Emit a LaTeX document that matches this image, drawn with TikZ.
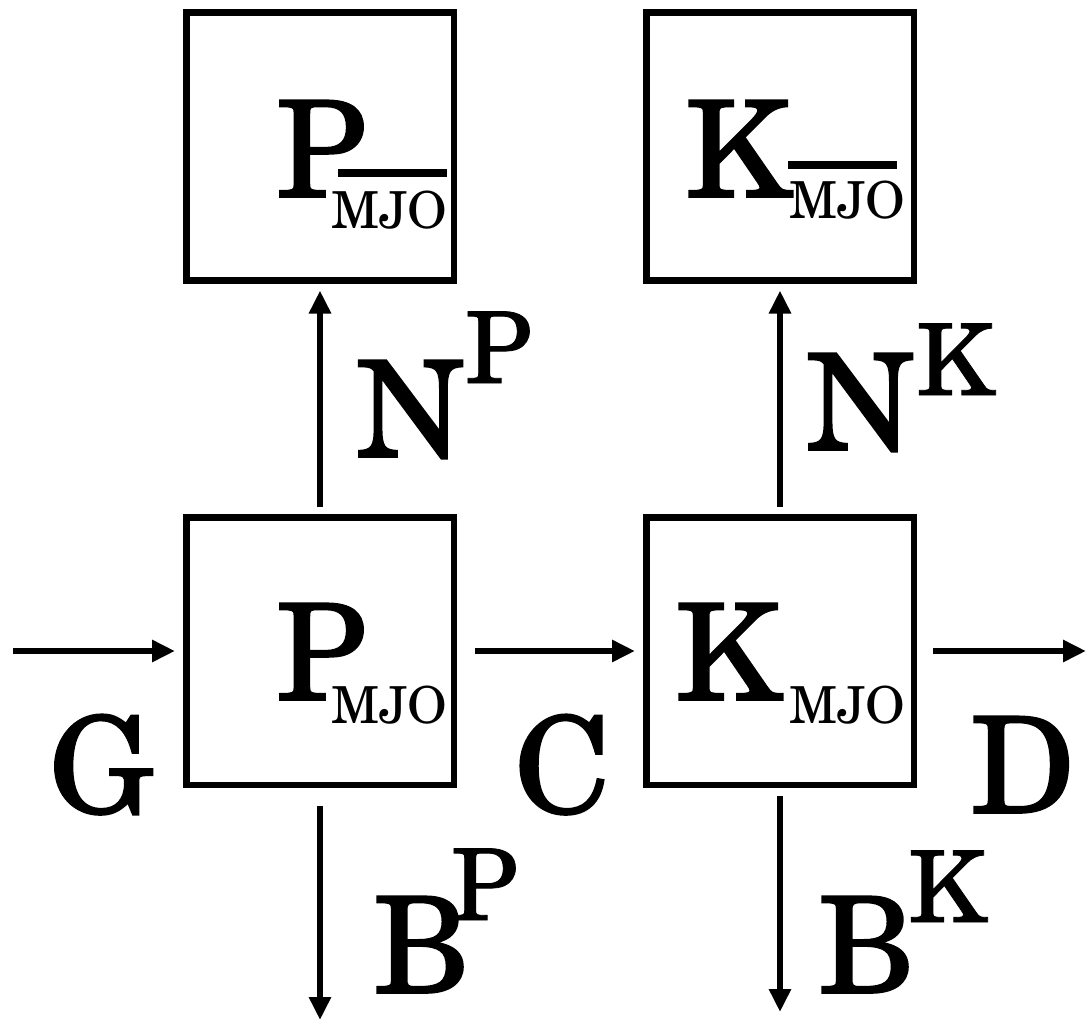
\documentclass[tikz,border=0pt]{standalone}
\usepackage{fontspec}
\setmainfont{TeX Gyre Schola}
\newfontfamily\heavyfont{TeX Gyre Schola}[FakeBold=1.2]
\newfontfamily\midfont{TeX Gyre Schola}[FakeBold=0.8]
\usetikzlibrary{arrows.meta}

\begin{document}
\begin{tikzpicture}[x=1pt, y=-1pt,
  box/.style={draw, line width=6.5pt, minimum size=267.5pt, inner sep=0pt},
  arr/.style={line width=6.5pt, -{Triangle[length=23pt, width=21pt]}},
  big/.style={font=\fontsize{134}{134}\selectfont\heavyfont, inner sep=0pt, anchor=base west},
  sup/.style={font=\fontsize{99}{99}\selectfont\midfont, inner sep=0pt, anchor=base west},
  sub/.style={font=\fontsize{51}{51}\selectfont, inner sep=0pt, anchor=base west}]
  \useasboundingbox (0,0) rectangle (1087,1025);
  % four blocks
  \node[box] (tp) at (320,146.5) {};
  \node[box] (tk) at (780,146.5) {};
  \node[box] (bp) at (320,651)   {};
  \node[box] (bk) at (780,651)   {};
  % block labels
  \node[big] (tpP)  at (276,197) {P};
  \node[sub] (tpS)  at (331,228) {\rlap{\kern7pt\raisebox{51pt}{\rule{109pt}{8pt}}}MJO};
  \node[big] (tkK)  at (685,197) {K};
  \node[sub] (tkS)  at (789,218) {\rlap{\kern-1pt\raisebox{49pt}{\rule{109pt}{8pt}}}MJO};
  \node[big] (bpP)  at (276,700) {P};
  \node[sub] (bpS)  at (331,723) {MJO};
  \node[big] (bkK)  at (675,700) {K};
  \node[sub] (bkS)  at (789,723) {MJO};
  % flow labels
  \node[big] (np)   at (356,457) {N};
  \node[sup] (npS)  at (465,383) {P};
  \node[big] (nk)   at (806,450) {N};
  \node[sup] (nkS)  at (916,395) {K};
  \node[big] (g)    at (49,813)  {G};
  \node[big] (c)    at (514,813) {C};
  \node[big] (d)    at (970,813) {D};
  \node[big] (bP)   at (373,993) {B};
  \node[sup] (bPS)  at (451,920) {P};
  \node[big] (bK)   at (818,993) {B};
  \node[sup] (bKS)  at (908,922) {K};
  % free ends
  \coordinate (gin)  at (13,651);
  \coordinate (dout) at (1086,651);
  \coordinate (bpo)  at (320,1020);
  \coordinate (bko)  at (780,1012);
  % connectors
  \draw[arr, shorten >=8pt] (gin) -- (bp);
  \draw[arr, shorten <=18pt, shorten >=8pt] (bp) -- (bk);
  \draw[arr, shorten <=16pt] (bk) -- (dout);
  \draw[arr, shorten <=7pt, shorten >=7pt] (bp) -- (tp);
  \draw[arr, shorten <=7pt, shorten >=7pt] (bk) -- (tk);
  \draw[arr, shorten <=18pt] (bp) -- (bpo);
  \draw[arr, shorten <=8pt] (bk) -- (bko);
\end{tikzpicture}
\end{document}
